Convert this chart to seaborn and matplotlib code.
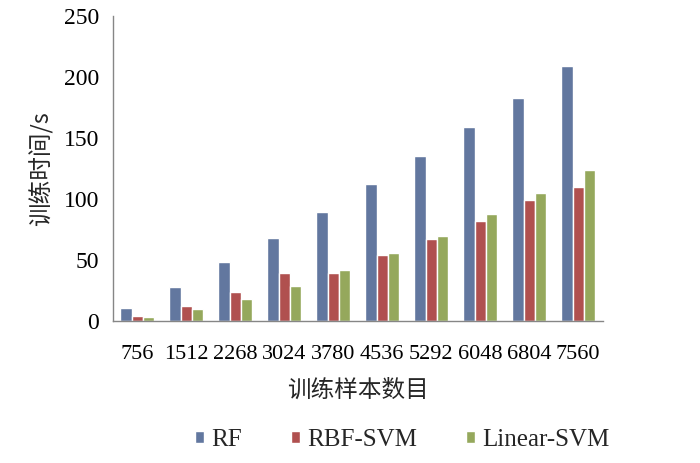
import matplotlib
matplotlib.use("Agg")
import matplotlib.pyplot as plt
import seaborn as sns
import pandas as pd
from matplotlib.patches import Patch

categories = ["756", "1512", "2268", "3024", "3780", "4536", "5292", "6048", "6804", "7560"]
series_names = ["RF", "RBF-SVM", "Linear-SVM"]
rf = [11, 28, 48, 68, 89, 112, 135, 159, 183, 209]
rbf_svm = [4, 12, 24, 39, 39, 54, 67, 82, 99, 110]
linear_svm = [3, 10, 18, 29, 42, 56, 70, 88, 105, 124]
yticks = [0, 50, 100, 150, 200, 250]
colors = ["#62779F", "#B0504F", "#95A85C"]

rows = []
for name, vals in zip(series_names, [rf, rbf_svm, linear_svm]):
    for c, v in zip(categories, vals):
        rows.append({"n": c, "method": name, "t": v})
df = pd.DataFrame(rows)

sns.set_theme(style="white")
plt.rcParams['font.family'] = ['Liberation Serif', 'Noto Sans CJK SC']

fig = plt.figure(figsize=(7, 4.63), dpi=100)
ax = fig.add_axes([0.161, 0.3067, 0.70, 0.6587])
sns.barplot(data=df, x="n", y="t", hue="method", order=categories,
            hue_order=series_names, palette=colors, width=0.69,
            saturation=1, ax=ax, legend=False)

spine_color = "#868686"
for s in ["top", "right"]:
    ax.spines[s].set_visible(False)
for s in ["left", "bottom"]:
    ax.spines[s].set_color(spine_color)
    ax.spines[s].set_linewidth(1.0)

ax.set_ylim(0, 250)
ax.set_xlim(-0.5, len(categories) - 0.5)
ax.set_yticks(yticks)
ax.set_yticklabels([str(v) for v in yticks], fontsize=17, color="black")
ax.set_xticks(range(len(categories)))
ax.set_xticklabels(categories, fontsize=16, color="black")
ax.tick_params(axis="y", direction="in", length=6, color=spine_color, pad=10)
ax.tick_params(axis="x", length=0, pad=17)
# category boundary ticks
ax.set_xticks([i + 0.5 for i in range(len(categories))], minor=True)
ax.tick_params(axis="x", which="minor", direction="in", length=7, color=spine_color)

ax.set_xlabel("训练样本数目", fontsize=17, family=['Noto Sans CJK SC'], labelpad=11)
ax.set_ylabel("训练时间/s", fontsize=17, family=['Noto Sans CJK SC', 'Liberation Serif'], labelpad=7)

handles = [Patch(facecolor=c, label=n) for c, n in zip(colors, series_names)]
fig.legend(handles=handles, loc="center", bbox_to_anchor=(0.575, 0.05), ncol=3,
           frameon=False, fontsize=18, handlelength=0.35, handleheight=0.35,
           handletextpad=0.3, columnspacing=1.95)

fig.savefig("out.png", dpi=100)
